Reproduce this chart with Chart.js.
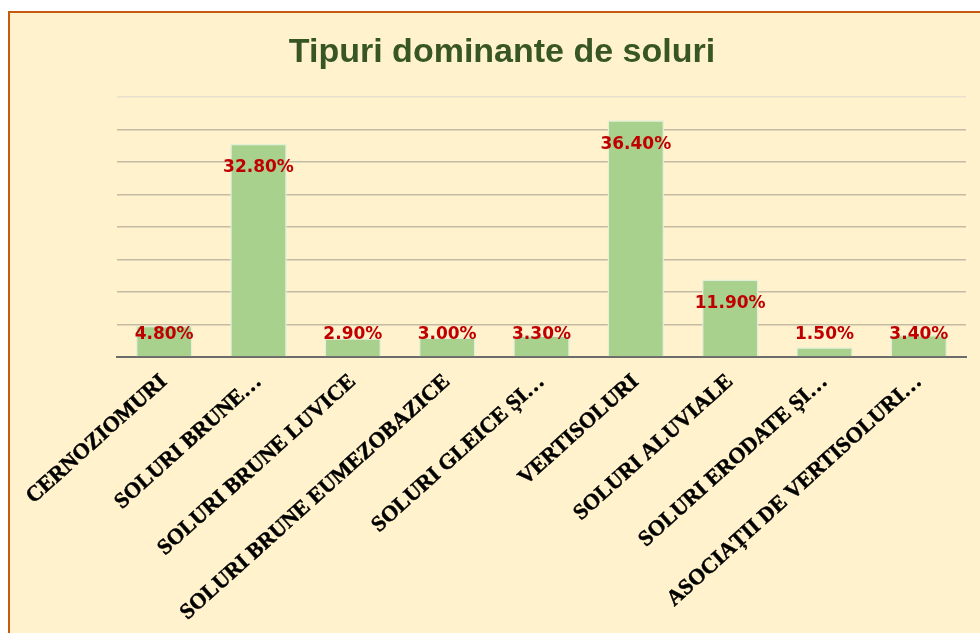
<!DOCTYPE html>
<html>
<head>
<meta charset="utf-8">
<script src="https://cdn.jsdelivr.net/npm/chart.js@4"></script>
<style>
  html, body { margin: 0; padding: 0; background: #fff; overflow: hidden; }
  #frame { position: absolute; left: 8px; top: 11px; width: 1000px; height: 700px;
    border-left: 2px solid #c55a11; border-top: 2px solid #c55a11; background: #fff2cc; }
  #chart { position: absolute; left: 0; top: 0; }
</style>
</head>
<body>
<div id="frame"></div>
<canvas id="chart" width="980" height="633"></canvas>
<script>
const categories = [
  'CERNOZIOMURI', 'SOLURI BRUNE…', 'SOLURI BRUNE LUVICE', 'SOLURI BRUNE EUMEZOBAZICE',
  'SOLURI GLEICE ȘI…', 'VERTISOLURI', 'SOLURI ALUVIALE', 'SOLURI ERODATE ȘI…',
  'ASOCIAȚII DE VERTISOLURI…'
];
const shares = [4.8, 32.8, 2.9, 3.0, 3.3, 36.4, 11.9, 1.5, 3.4];

// red value labels near the top of each bar
const barLabels = {
  id: 'barLabels',
  afterDatasetsDraw(chart) {
    const ctx = chart.ctx;
    const meta = chart.getDatasetMeta(0);
    ctx.save();
    ctx.font = 'bold 17px "DejaVu Sans"';
    ctx.fillStyle = '#c00000';
    ctx.textAlign = 'center';
    ctx.textBaseline = 'middle';
    meta.data.forEach((bar, i) => {
      const y = Math.min(bar.y + 24, bar.base - 21.5);
      ctx.fillText(shares[i].toFixed(2) + '%', bar.x, y);
    });
    ctx.restore();
  }
};

new Chart(document.getElementById('chart'), {
  type: 'bar',
  data: {
    labels: categories,
    datasets: [{
      data: shares,
      backgroundColor: '#a9d18e', borderColor: '#e2f0d9', borderWidth: 1.5,
      barPercentage: 0.6, categoryPercentage: 1
    }]
  },
  plugins: [barLabels],
  options: {
    responsive: false, animation: false,
    layout: { padding: { left: 38, right: 14, top: 0, bottom: 0 } },
    plugins: {
      legend: { display: false }, tooltip: { enabled: false },
      title: {
        display: true, text: 'Tipuri dominante de soluri', color: '#375623',
        font: { family: '"Liberation Sans", Arial', size: 34, weight: 'bold' },
        padding: { top: 32, bottom: 24 }
      }
    },
    scales: {
      x: {
        grid: { display: false },
        border: { color: '#6b6b6b', width: 2 },
        ticks: {
          color: '#000', minRotation: 42, maxRotation: 42, autoSkip: false, padding: 4,
          textStrokeColor: '#000', textStrokeWidth: 0.5,
          font: { family: '"Liberation Serif", "Times New Roman"', size: 22, weight: 'bold' }
        },
        afterFit(s) { s.height = 276; s.paddingLeft = 0; s.paddingRight = 0; }
      },
      y: {
        min: 0, max: 40,
        ticks: { display: false, stepSize: 5 },
        border: { display: false },
        grid: {
          drawTicks: false, lineWidth: 1.5,
          color: c => c.tick.value === 40 ? '#e8e0cb' : '#c4bba3'
        },
        afterFit(s) { s.width = 79; }
      }
    }
  }
});
</script>
</body>
</html>
